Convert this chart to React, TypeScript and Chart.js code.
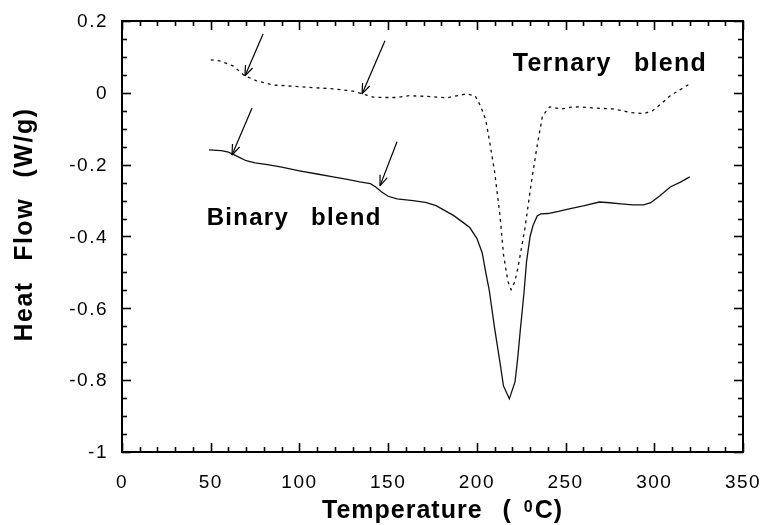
import React, { useEffect, useRef } from "react";
import { Chart, registerables } from "chart.js";

Chart.register(...registerables);

// ---- Data ----
const ternaryTemp = [50, 55, 62.6, 69, 76, 85, 100, 119, 130, 135, 141.6, 148, 155, 162, 172, 183, 194, 199, 202, 205, 207, 210, 213, 215, 217.5, 219.3, 221.5, 223, 224.5, 227, 229, 231, 234, 237, 241, 248, 253, 258, 265, 277, 287, 294, 299, 304, 309, 315, 320];
const ternaryFlow = [0.092, 0.089, 0.075, 0.048, 0.033, 0.022, 0.017, 0.011, 0.005, -0.002, -0.012, -0.013, -0.013, -0.008, -0.01, -0.014, -0.003, -0.008, -0.036, -0.075, -0.13, -0.22, -0.34, -0.45, -0.525, -0.548, -0.525, -0.49, -0.45, -0.38, -0.31, -0.24, -0.147, -0.064, -0.039, -0.045, -0.04, -0.039, -0.042, -0.045, -0.055, -0.058, -0.05, -0.03, -0.008, 0.01, 0.025];

const binaryTemp = [49, 56, 60, 63, 67, 70, 75, 82, 90, 100, 110, 119, 127, 134, 140, 143, 146, 150, 155, 164, 171, 177, 182, 187, 192, 196, 200, 203, 205, 207, 210, 213, 215, 218.3, 221.5, 223, 224.5, 226.5, 228, 230, 231.6, 234, 236, 240, 246, 252, 260, 269, 275, 281, 288, 294, 298, 303, 309, 315, 320];
const binaryFlow = [-0.159, -0.161, -0.165, -0.172, -0.182, -0.189, -0.195, -0.2, -0.207, -0.217, -0.226, -0.234, -0.241, -0.248, -0.253, -0.262, -0.275, -0.288, -0.295, -0.3, -0.305, -0.314, -0.328, -0.342, -0.36, -0.375, -0.405, -0.445, -0.5, -0.55, -0.655, -0.75, -0.816, -0.852, -0.805, -0.74, -0.66, -0.56, -0.47, -0.4, -0.37, -0.343, -0.337, -0.336, -0.33, -0.323, -0.315, -0.304, -0.306, -0.309, -0.312, -0.312, -0.306, -0.287, -0.262, -0.248, -0.234];

// Axis ranges and ticks
const xMin = 0, xMax = 350, xMajorStep = 50, xMinorStep = 10;
const yMin = -1, yMax = 0.2, yMajorStep = 0.2, yMinorStep = 0.05;

// Arrows (tail -> head), in data units
const arrowTailX = [79.5, 148.2, 73.3, 155];
const arrowTailY = [0.164, 0.145, -0.042, -0.136];
const arrowHeadX = [69.3, 135.3, 62, 145.4];
const arrowHeadY = [0.047, -0.003, -0.173, -0.259];

// Curve labels, in data units (left, baseline)
const labelTexts = ["Ternary blend", "Binary blend"];
const labelX = [220.2, 47.7];
const labelY = [0.062, -0.368];
const labelSize = [25, 24];

const yTitle = "Heat Flow (W/g)";
const xTitleMain = "Temperature (";
const xTitleSup = "0";
const xTitleEnd = "C)";

const FONT = "'Liberation Sans', Arial, Helvetica, sans-serif";

const decorPlugin = {
  id: "decor",
  beforeDraw(chart: any) {
    (chart.ctx as any).letterSpacing = "1.5px";
  },
  beforeDatasetsDraw(chart: any) {
    (chart.ctx as any).letterSpacing = "0px";
  },
  afterDraw(chart: any) {
    const ctx = chart.ctx as any;
    const { left, right, top, bottom } = chart.chartArea;
    const xs = chart.scales.x;
    const ys = chart.scales.y;
    ctx.save();
    ctx.letterSpacing = "0px";
    ctx.strokeStyle = "#000";
    ctx.fillStyle = "#000";

    // frame
    ctx.lineWidth = 2;
    ctx.strokeRect(left, top, right - left, bottom - top);

    // inward ticks on all four sides
    ctx.lineWidth = 1.6;
    const seg = (x1: number, y1: number, x2: number, y2: number) => {
      ctx.beginPath();
      ctx.moveTo(x1, y1);
      ctx.lineTo(x2, y2);
      ctx.stroke();
    };
    const nx = Math.round((xMax - xMin) / xMinorStep);
    const perMajX = Math.round(xMajorStep / xMinorStep);
    for (let i = 0; i <= nx; i++) {
      const v = xMin + i * xMinorStep;
      const L = i % perMajX === 0 ? 9 : 5;
      const px = Math.round(xs.getPixelForValue(v)) + 0.5;
      seg(px, bottom, px, bottom - L);
      seg(px, top, px, top + L);
    }
    const ny = Math.round((yMax - yMin) / yMinorStep);
    const perMajY = Math.round(yMajorStep / yMinorStep);
    for (let i = 0; i <= ny; i++) {
      const v = yMin + i * yMinorStep;
      const L = i % perMajY === 0 ? 9 : 5;
      const py = Math.round(ys.getPixelForValue(v)) + 0.5;
      seg(left, py, left + L, py);
      seg(right, py, right - L, py);
    }

    // arrows
    ctx.lineWidth = 1.2;
    for (let i = 0; i < arrowTailX.length; i++) {
      const x1 = xs.getPixelForValue(arrowTailX[i]);
      const y1 = ys.getPixelForValue(arrowTailY[i]);
      const x2 = xs.getPixelForValue(arrowHeadX[i]);
      const y2 = ys.getPixelForValue(arrowHeadY[i]);
      seg(x1, y1, x2, y2);
      const ang = Math.atan2(y1 - y2, x1 - x2);
      const hl = 11, ha = 0.36;
      seg(x2, y2, x2 + hl * Math.cos(ang + ha), y2 + hl * Math.sin(ang + ha));
      seg(x2, y2, x2 + hl * Math.cos(ang - ha), y2 + hl * Math.sin(ang - ha));
    }

    // curve labels
    ctx.letterSpacing = "1.3px";
    ctx.wordSpacing = "14px";
    ctx.textAlign = "left";
    ctx.textBaseline = "alphabetic";
    for (let i = 0; i < labelTexts.length; i++) {
      ctx.font = `bold ${labelSize[i]}px ${FONT}`;
      ctx.fillText(labelTexts[i], xs.getPixelForValue(labelX[i]), ys.getPixelForValue(labelY[i]));
    }

    // y title
    ctx.save();
    ctx.font = `bold 25px ${FONT}`;
    ctx.letterSpacing = "1.5px";
    ctx.wordSpacing = "12px";
    ctx.translate(32, (top + bottom) / 2 - 12);
    ctx.rotate(-Math.PI / 2);
    ctx.textAlign = "center";
    ctx.fillText(yTitle, 0, 0);
    ctx.restore();

    // x title with superscript
    ctx.font = `bold 25px ${FONT}`;
    ctx.letterSpacing = "1px";
    ctx.wordSpacing = "12px";
    ctx.textAlign = "left";
    let tx = 322;
    const base = 518;
    ctx.fillText(xTitleMain, tx, base);
    tx += ctx.measureText(xTitleMain).width + 12;
    ctx.font = `bold 16px ${FONT}`;
    ctx.fillText(xTitleSup, tx, base - 6);
    tx += ctx.measureText(xTitleSup).width + 1;
    ctx.font = `bold 25px ${FONT}`;
    ctx.fillText(xTitleEnd, tx, base);

    ctx.restore();
  },
};

export default function App() {
  const ref = useRef<HTMLCanvasElement | null>(null);
  useEffect(() => {
    if (!ref.current) return;
    const chart = new Chart(ref.current, {
      type: "scatter",
      data: {
        datasets: [
          {
            label: "Ternary blend",
            data: ternaryTemp.map((x, i) => ({ x, y: ternaryFlow[i] })),
            showLine: true,
            borderColor: "#111",
            borderWidth: 1.3,
            borderDash: [3, 4],
            pointRadius: 0,
            tension: 0,
            fill: false,
          },
          {
            label: "Binary blend",
            data: binaryTemp.map((x, i) => ({ x, y: binaryFlow[i] })),
            showLine: true,
            borderColor: "#111",
            borderWidth: 1.3,
            pointRadius: 0,
            tension: 0,
            fill: false,
          },
        ],
      },
      options: {
        responsive: false,
        animation: false,
        devicePixelRatio: 1,
        layout: { padding: { top: 21, right: 20, left: 0, bottom: 0 } },
        plugins: { legend: { display: false }, tooltip: { enabled: false } },
        scales: {
          x: {
            type: "linear",
            min: xMin,
            max: xMax,
            grid: { display: false },
            border: { display: false },
            ticks: {
              stepSize: xMajorStep,
              color: "#000",
              font: { family: FONT, size: 19 },
              padding: 11,
              maxRotation: 0,
            },
            afterFit: (s: any) => {
              s.height = 73;
              s.paddingLeft = 0;
              s.paddingRight = 0;
            },
          },
          y: {
            type: "linear",
            min: yMin,
            max: yMax,
            grid: { display: false },
            border: { display: false },
            ticks: {
              stepSize: yMajorStep,
              color: "#000",
              font: { family: FONT, size: 19 },
              padding: 6,
              labelOffset: 1,
              callback: (v: any) => String(Number(Number(v).toFixed(1))),
            },
            afterFit: (s: any) => {
              s.width = 122;
              s.paddingTop = 0;
              s.paddingBottom = 0;
            },
          },
        },
      },
      plugins: [decorPlugin],
    } as any);
    return () => chart.destroy();
  }, []);
  return (
    <div style={{ position: "absolute", left: 0, top: 0, width: 763, height: 525 }}>
      <canvas ref={ref} width={763} height={525} />
    </div>
  );
}
